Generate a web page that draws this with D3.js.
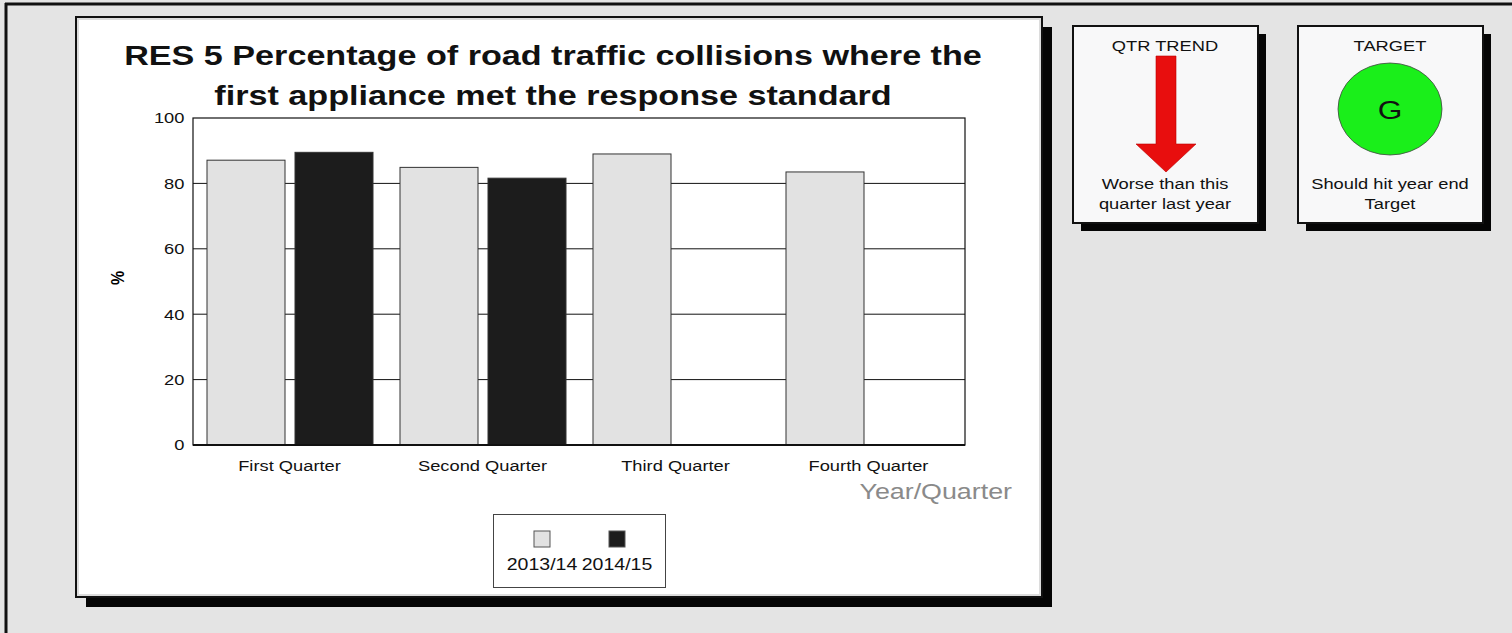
<!DOCTYPE html>
<html>
<head>
<meta charset="utf-8">
<script src="https://cdn.jsdelivr.net/npm/d3@7"></script>
<style>
  body { margin: 0; background: #e4e4e4; }
  svg { display: block; font-family: "Liberation Sans", Arial, sans-serif; }
</style>
</head>
<body>
<div id="chart"></div>
<script>
const quarters = ['First Quarter', 'Second Quarter', 'Third Quarter', 'Fourth Quarter'];
const years = ['2013/14', '2014/15'];
const values2013 = [87.1, 84.9, 89.0, 83.5];
const values2014 = [89.5, 81.6, null, null];
const yTicks = [0, 20, 40, 60, 80, 100];
const colors = ['#e2e2e2', '#1c1c1c'];

const width = 1512, height = 633;
const plot = { left: 193, right: 965, top: 118, bottom: 445 };
const xs = 1.22; // text in the original is drawn a bit wide

const svg = d3.select('#chart').append('svg')
  .attr('width', width)
  .attr('height', height);

function txt(x, y, str, size, opts = {}) {
  return svg.append('text')
    .attr('transform', `translate(${x},${y}) scale(${xs},1)`)
    .attr('text-anchor', opts.anchor || 'middle')
    .attr('font-size', size)
    .attr('font-weight', opts.bold ? 'bold' : null)
    .attr('fill', opts.fill || '#111')
    .text(str);
}

// page background and outer frame
svg.append('rect').attr('width', width).attr('height', height).attr('fill', '#e4e4e4');
svg.append('line').attr('x1', 5).attr('x2', width).attr('y1', 4).attr('y2', 4)
  .attr('stroke', '#111').attr('stroke-width', 3);
svg.append('line').attr('x1', 6).attr('x2', 6).attr('y1', 3).attr('y2', height)
  .attr('stroke', '#111').attr('stroke-width', 3);

// panel with drop shadow
function panel(x, y, w, h, fill, off) {
  svg.append('rect').attr('x', x + off).attr('y', y + off).attr('width', w).attr('height', h).attr('fill', '#050505');
  svg.append('rect').attr('x', x).attr('y', y).attr('width', w).attr('height', h)
    .attr('fill', fill).attr('stroke', '#111').attr('stroke-width', 2);
}
panel(76, 17, 966, 580, '#ffffff', 10);
svg.append('rect').attr('x', 78).attr('y', 19).attr('width', 962).attr('height', 576)
  .attr('fill', 'none').attr('stroke', '#dcdcdc').attr('stroke-width', 2);

// title
txt(553, 65, 'RES 5 Percentage of road traffic collisions where the', 28, { bold: true });
txt(553, 105, 'first appliance met the response standard', 28, { bold: true });

const x0 = d3.scaleBand().domain(quarters).range([plot.left, plot.right]).paddingInner(0).paddingOuter(0);
const x1 = d3.scaleBand().domain(years).range([14, 14 + 166]).paddingInner(10 / 88).paddingOuter(0);
const y = d3.scaleLinear().domain([0, 100]).range([plot.bottom, plot.top]);

// gridlines
svg.append('g').selectAll('line').data(yTicks.filter(d => d > 0 && d < 100)).join('line')
  .attr('x1', plot.left).attr('x2', plot.right)
  .attr('y1', d => y(d)).attr('y2', d => y(d))
  .attr('stroke', '#111').attr('stroke-width', 1);

// bars
const rows = quarters.map((q, i) => ({ q, vals: [values2013[i], values2014[i]] }));
svg.append('g').selectAll('g').data(rows).join('g')
  .attr('transform', d => `translate(${x0(d.q)},0)`)
  .selectAll('rect')
  .data(d => d.vals.map((v, j) => ({ year: years[j], v, j })).filter(e => e.v != null))
  .join('rect')
  .attr('x', d => x1(d.year))
  .attr('width', x1.bandwidth())
  .attr('y', d => y(d.v))
  .attr('height', d => y(0) - y(d.v))
  .attr('fill', d => colors[d.j])
  .attr('stroke', '#333').attr('stroke-width', 1);

// plot frame
svg.append('rect').attr('x', plot.left).attr('y', plot.top)
  .attr('width', plot.right - plot.left).attr('height', plot.bottom - plot.top)
  .attr('fill', 'none').attr('stroke', '#111').attr('stroke-width', 1.2);
svg.append('line').attr('x1', plot.left).attr('x2', plot.right).attr('y1', plot.bottom).attr('y2', plot.bottom)
  .attr('stroke', '#111').attr('stroke-width', 2);

// axes
const yAxis = svg.append('g').attr('transform', `translate(${plot.left},0)`)
  .call(d3.axisLeft(y).tickValues(yTicks).tickSize(0).tickPadding(7));
yAxis.select('.domain').remove();
yAxis.selectAll('text').attr('font-size', 15).attr('font-family', '"Liberation Sans", Arial, sans-serif')
  .attr('fill', '#111').attr('transform', `scale(${xs},1)`);

const xAxis = svg.append('g').attr('transform', `translate(0,${plot.bottom})`)
  .call(d3.axisBottom(x0).tickSize(0).tickPadding(15));
xAxis.select('.domain').remove();
xAxis.selectAll('text').attr('font-size', 15).attr('font-family', '"Liberation Sans", Arial, sans-serif')
  .attr('fill', '#111').attr('transform', `scale(${xs},1)`);

svg.append('text').attr('transform', 'translate(124,278) rotate(-90) scale(1,1.2)')
  .attr('text-anchor', 'middle').attr('font-size', 16).attr('font-weight', 'bold').text('%');

txt(1012, 499, 'Year/Quarter', 22, { anchor: 'end', fill: '#8a8a8a' });

// legend
svg.append('rect').attr('x', 493.5).attr('y', 514.5).attr('width', 172).attr('height', 73)
  .attr('fill', '#fff').attr('stroke', '#444').attr('stroke-width', 1);
const leg = svg.append('g').selectAll('g').data(years).join('g')
  .attr('transform', (d, i) => `translate(${542 + i * 75},0)`);
leg.append('rect').attr('x', -8).attr('y', 531).attr('width', 16).attr('height', 16)
  .attr('fill', (d, i) => colors[i]).attr('stroke', '#555');
leg.append('text').attr('transform', `translate(0,570) scale(${xs},1)`)
  .attr('text-anchor', 'middle').attr('font-size', 16).attr('fill', '#111').text(d => d);

// side indicator boxes
panel(1073, 26, 185, 197, '#f8f8f9', 8);
panel(1298, 26, 185, 197, '#f8f8f9', 8);

txt(1165, 51, 'QTR TREND', 15);
svg.append('path')
  .attr('d', 'M1156,56 L1176,56 L1176,144 L1196,144 L1166,172 L1136,144 L1156,144 Z')
  .attr('fill', '#e80e0e').attr('stroke', '#b00').attr('stroke-width', 0.6);
txt(1165, 189, 'Worse than this', 15);
txt(1165, 209, 'quarter last year', 15);

txt(1390, 51, 'TARGET', 15);
svg.append('ellipse').attr('cx', 1390).attr('cy', 109).attr('rx', 52).attr('ry', 46)
  .attr('fill', '#1aef1a').attr('stroke', '#444').attr('stroke-width', 0.8);
txt(1390, 119, 'G', 26);
txt(1390, 189, 'Should hit year end', 15);
txt(1390, 209, 'Target', 15);
</script>
</body>
</html>
